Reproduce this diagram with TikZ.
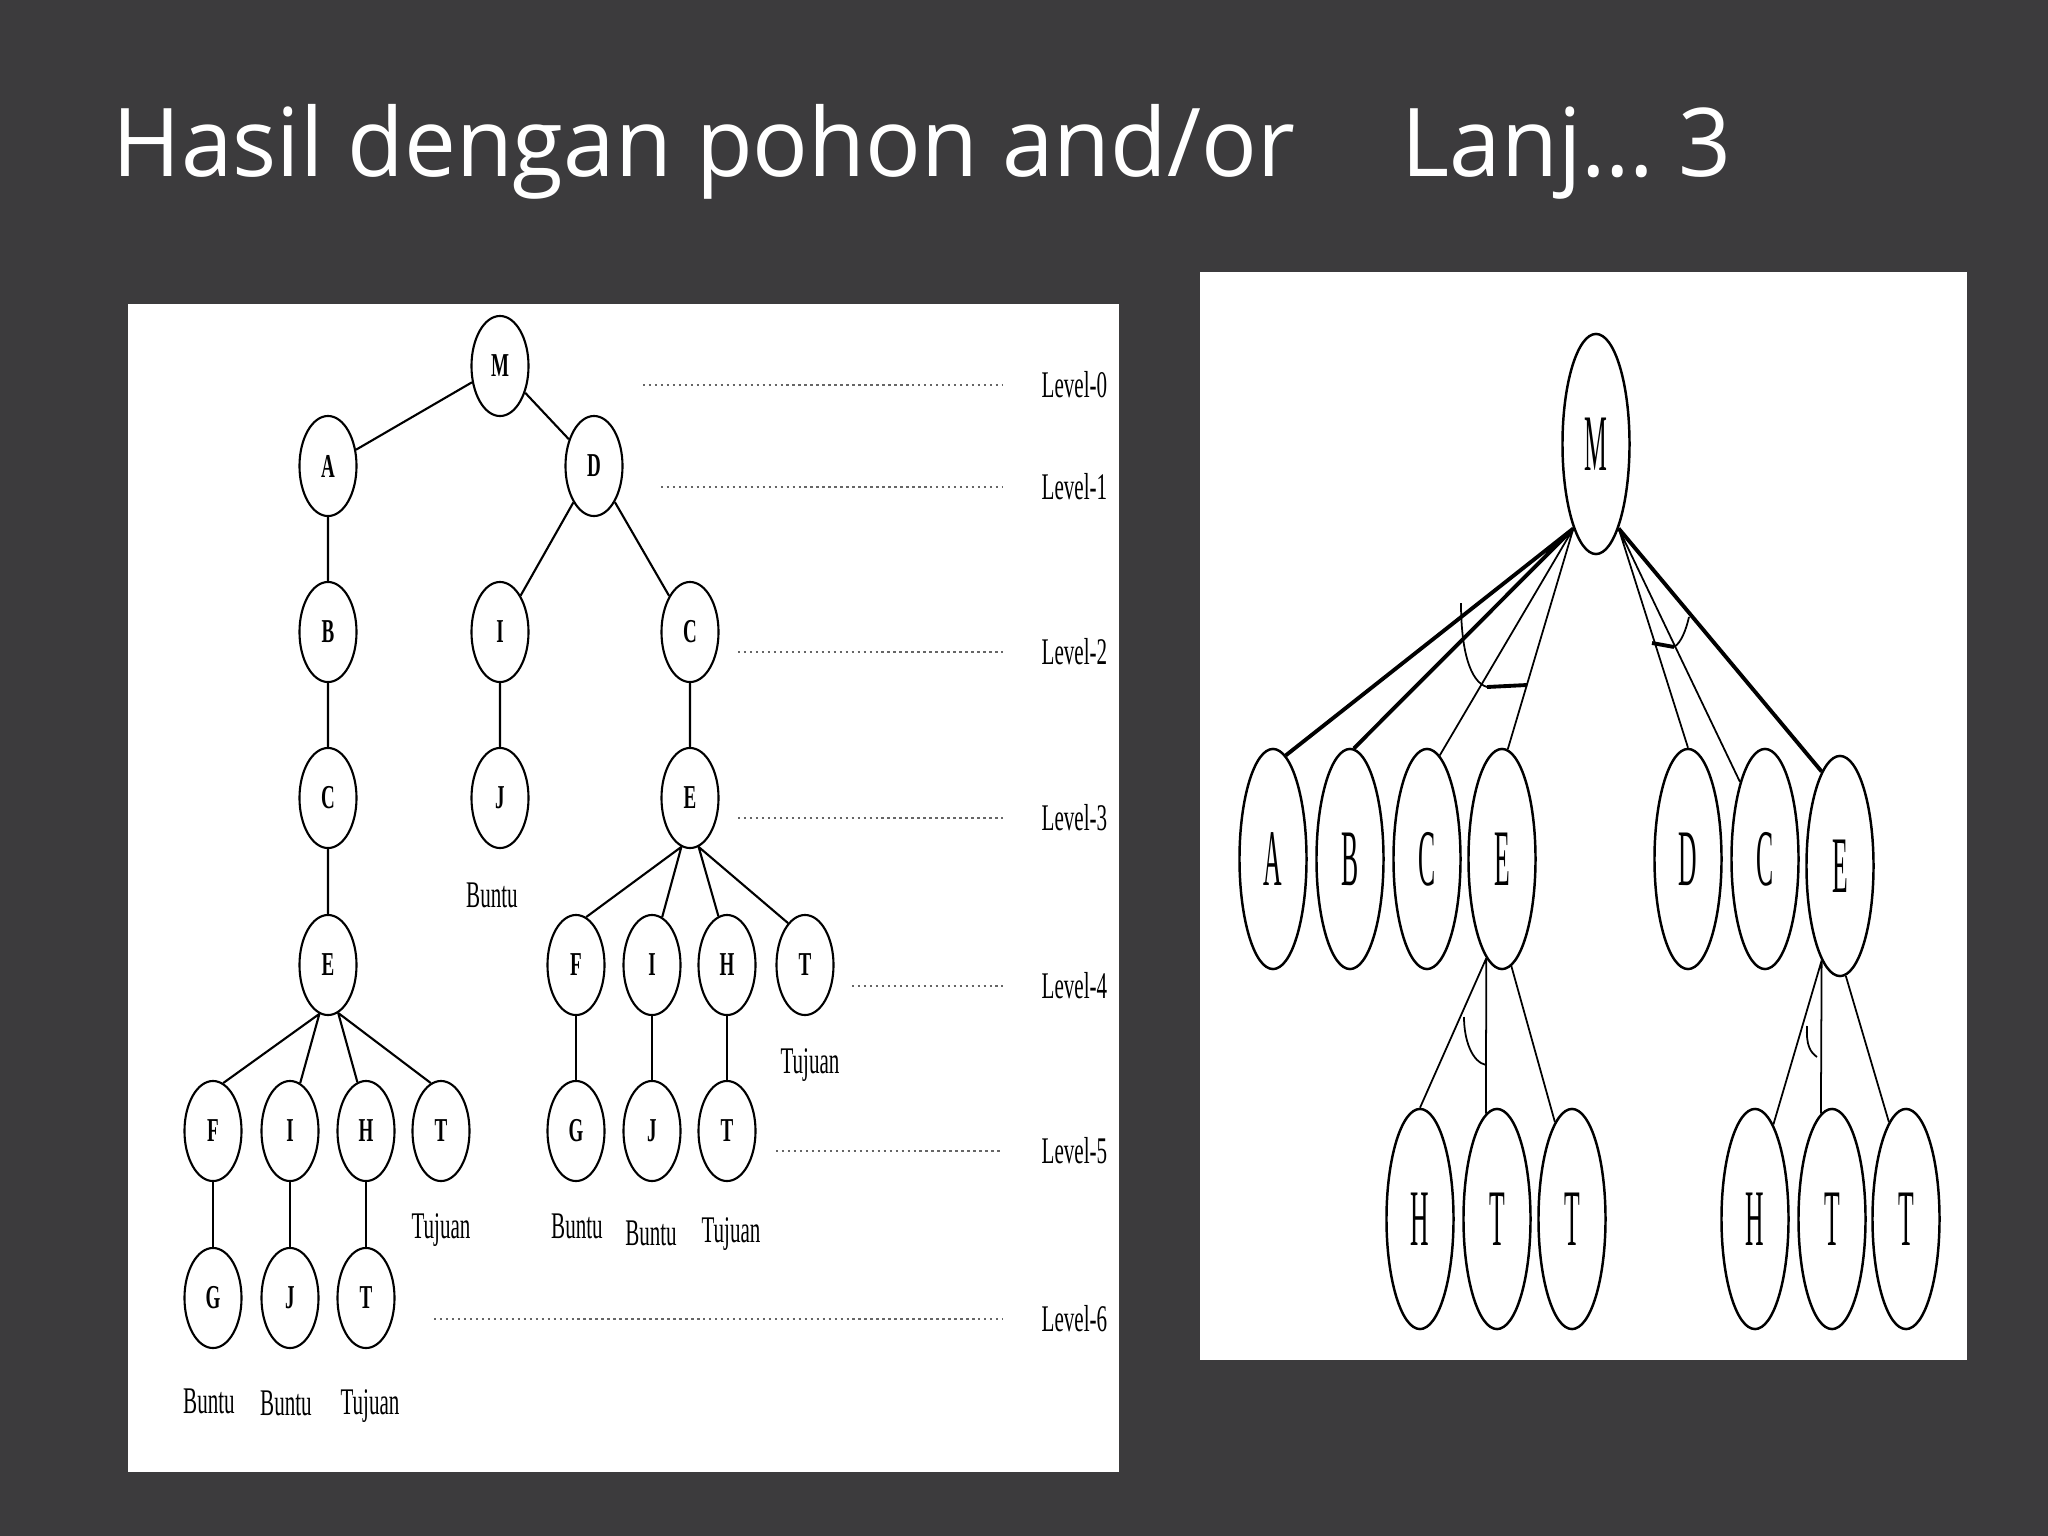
\documentclass[tikz,border=0pt]{standalone}
\usepackage{graphicx}
\usepackage{fontspec}
\setmainfont{Liberation Serif}
\newfontfamily\titlefont{Open Sans}
\usetikzlibrary{shapes.geometric}

\definecolor{slidebg}{RGB}{60,59,61}

% squeezed Times-like letters, as in the scanned trees
\newcommand{\lch}[1]{\scalebox{0.57}[1]{\fontsize{9.5}{10}\selectfont\bfseries #1}}
\newcommand{\rch}[1]{\scalebox{0.32}[1]{\fontsize{22.8}{24}\selectfont #1}}
\newcommand{\lvtxt}[1]{\scalebox{0.56}[1]{\fontsize{10.7}{12}\selectfont #1}}
\newcommand{\headtxt}[1]{\scalebox{0.975}[1]{#1}}

\tikzset{
	lnode/.style={draw, ellipse, line width=0.6pt, minimum width=0.57cm, minimum height=1cm, inner sep=0pt},
	rnode/.style={draw, ellipse, line width=0.7pt, minimum width=0.67cm, minimum height=2.2cm, inner sep=0pt},
	ledge/.style={line width=0.6pt},
	rthin/.style={line width=0.5pt},
	rthick/.style={line width=1.1pt},
	levelline/.style={densely dotted, line width=0.7pt, black!60},
	note/.style={anchor=base, inner sep=0pt},
	lvlabel/.style={anchor=west, inner sep=0pt},
	heading/.style={anchor=base west, inner sep=0pt, text=white, font=\titlefont\fontsize{27}{32}\selectfont}
}

\begin{document}
\begin{tikzpicture}[x=0.01cm, y=-0.01cm]
	\useasboundingbox (0,0) rectangle (2048,1536);
	\fill[slidebg]	(0,0) rectangle (2048,1536);

	\node[heading] (title) at (112,176) {\headtxt{Hasil dengan pohon and/or}};
	\node[heading] (titlenum) at (1401,176) {\headtxt{Lanj… 3}};

	% left panel: search tree with levels
	\fill[white]	(128,304) rectangle (1119,1472);

	\node[lnode] (lM)  at (500,366) {\lch{M}};
	\node[lnode] (lA)  at (328,466) {\lch{A}};
	\node[lnode] (lD)  at (594,466) {\lch{D}};
	\node[lnode] (lB)  at (328,632) {\lch{B}};
	\node[lnode] (lI)  at (500,632) {\lch{I}};
	\node[lnode] (lC)  at (690,632) {\lch{C}};
	\node[lnode] (lC2) at (328,798) {\lch{C}};
	\node[lnode] (lJ)  at (500,798) {\lch{J}};
	\node[lnode] (lE2) at (690,798) {\lch{E}};
	\node[lnode] (lE)  at (328,965) {\lch{E}};
	\node[lnode] (lF2) at (576,965) {\lch{F}};
	\node[lnode] (lI3) at (652,965) {\lch{I}};
	\node[lnode] (lH2) at (727,965) {\lch{H}};
	\node[lnode] (lT2) at (805,965) {\lch{T}};
	\node[lnode] (lF)  at (213,1131) {\lch{F}};
	\node[lnode] (lI2) at (290,1131) {\lch{I}};
	\node[lnode] (lH)  at (366,1131) {\lch{H}};
	\node[lnode] (lT)  at (441,1131) {\lch{T}};
	\node[lnode] (lG2) at (576,1131) {\lch{G}};
	\node[lnode] (lJ3) at (652,1131) {\lch{J}};
	\node[lnode] (lT3) at (727,1131) {\lch{T}};
	\node[lnode] (lG)  at (213,1298) {\lch{G}};
	\node[lnode] (lJ2) at (290,1298) {\lch{J}};
	\node[lnode] (lT4) at (366,1298) {\lch{T}};

	\draw[ledge]	(lM) -- (lA)
					(lM) -- (lD)
					(lA) -- (lB)
					(lB) -- (lC2)
					(lC2) -- (lE)
					(lD) -- (lI)
					(lD) -- (lC)
					(lI) -- (lJ)
					(lC) -- (lE2);
	\draw[ledge]	(lE.-100) -- (lF.78)
					(lE.-100) -- (lI2.78)
					(lE.-78) -- (lH.100)
					(lE.-78) -- (lT.102)
					(lE2.-100) -- (lF2.78)
					(lE2.-100) -- (lI3.78)
					(lE2.-80) -- (lH2.100)
					(lE2.-80) -- (lT2.112);
	\draw[ledge]	(lF) -- (lG)
					(lI2) -- (lJ2)
					(lH) -- (lT4)
					(lF2) -- (lG2)
					(lI3) -- (lJ3)
					(lH2) -- (lT3);

	\node[note] (nJ)   at (492,907)  {\lvtxt{Buntu}};
	\node[note] (nT2)  at (810,1073) {\lvtxt{Tujuan}};
	\node[note] (nT)   at (441,1238) {\lvtxt{Tujuan}};
	\node[note] (nG2)  at (577,1238) {\lvtxt{Buntu}};
	\node[note] (nJ3)  at (651,1245) {\lvtxt{Buntu}};
	\node[note] (nT3)  at (731,1242) {\lvtxt{Tujuan}};
	\node[note] (nG)   at (209,1413) {\lvtxt{Buntu}};
	\node[note] (nJ2)  at (286,1415) {\lvtxt{Buntu}};
	\node[note] (nT4)  at (370,1414) {\lvtxt{Tujuan}};

	\node[lvlabel] (lv0) at (1041,385)  {\lvtxt{Level-0}};
	\node[lvlabel] (lv1) at (1041,487)  {\lvtxt{Level-1}};
	\node[lvlabel] (lv2) at (1041,652)  {\lvtxt{Level-2}};
	\node[lvlabel] (lv3) at (1041,818)  {\lvtxt{Level-3}};
	\node[lvlabel] (lv4) at (1041,986)  {\lvtxt{Level-4}};
	\node[lvlabel] (lv5) at (1041,1151) {\lvtxt{Level-5}};
	\node[lvlabel] (lv6) at (1041,1319) {\lvtxt{Level-6}};

	\draw[levelline]	(643,385) -- ([xshift=-0.38cm]lv0.west);
	\draw[levelline]	(661,487) -- ([xshift=-0.38cm]lv1.west);
	\draw[levelline]	(738,652) -- ([xshift=-0.38cm]lv2.west);
	\draw[levelline]	(738,818) -- ([xshift=-0.38cm]lv3.west);
	\draw[levelline]	(852,986) -- ([xshift=-0.38cm]lv4.west);
	\draw[levelline]	(776,1151) -- ([xshift=-0.38cm]lv5.west);
	\draw[levelline]	(434,1319) -- ([xshift=-0.38cm]lv6.west);

	% right panel: and/or tree
	\fill[white]	(1200,272) rectangle (1967,1360);

	\node[rnode] (rM)  at (1596,444)  {\rch{M}};
	\node[rnode] (rA)  at (1273,859)  {\rch{A}};
	\node[rnode] (rB)  at (1350,859)  {\rch{B}};
	\node[rnode] (rC)  at (1427,859)  {\rch{C}};
	\node[rnode] (rE)  at (1502,859)  {\rch{E}};
	\node[rnode] (rD)  at (1688,859)  {\rch{D}};
	\node[rnode] (rC2) at (1765,859)  {\rch{C}};
	\node[rnode] (rE2) at (1840,866)  {\rch{E}};
	\node[rnode] (rH)  at (1420,1219) {\rch{H}};
	\node[rnode] (rT)  at (1497,1219) {\rch{T}};
	\node[rnode] (rT2) at (1572,1219) {\rch{T}};
	\node[rnode] (rH2) at (1755,1219) {\rch{H}};
	\node[rnode] (rT3) at (1832,1219) {\rch{T}};
	\node[rnode] (rT4) at (1906,1219) {\rch{T}};

	\draw[rthick]	(rM.-105) -- (rA.83)
					(rM.-105) -- (rB.88)
					(rM.-75) -- (rE2.101);
	\draw[rthin]	(rM.-105) -- (rC.83)
					(rM.-105) -- (rE.87)
					(rM.-75) -- (rD.90)
					(rM.-75) -- (rC2.108);
	\draw[rthin]	(rE.-99) -- (rH.north)
					(rE.-99) -- (rT.96)
					(rE.-85) -- (rT2.100)
					(rE2.-101) -- (rH2.79)
					(rE2.-101) -- (rT3.96)
					(rE2.-87) -- (rT4.100);

	% and-arcs
	\draw[rthin]	(1461,603) .. controls (1461,650) and (1470,682) .. (1487,687);
	\draw[rthick]	(1487,687) -- (1527,685);
	\draw[rthick]	(1652,643) -- (1674,647);
	\draw[rthin]	(1674,647) .. controls (1681,643) and (1686,630) .. (1689,617);
	\draw[rthin]	(1464,1017) .. controls (1464,1040) and (1472,1062) .. (1486,1065);
	\draw[rthin]	(1807,1026) .. controls (1806,1045) and (1810,1052) .. (1817,1057);
\end{tikzpicture}
\end{document}
